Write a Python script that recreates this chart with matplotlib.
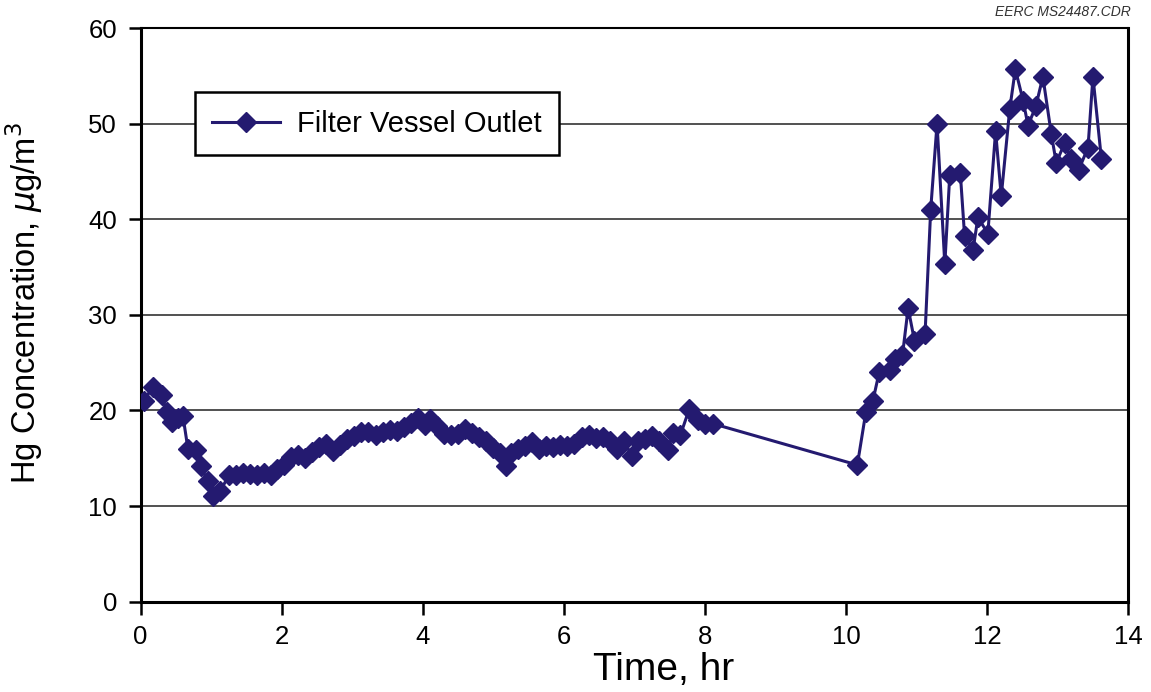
import matplotlib.pyplot as plt

plt.rcParams['font.family'] = ['Liberation Sans', 'DejaVu Sans']

# Filter vessel outlet Hg concentration
time_hr = [0.05, 0.17, 0.30, 0.37, 0.45, 0.53, 0.60, 0.67, 0.78, 0.85,
           0.95, 1.03, 1.13, 1.25, 1.35, 1.45, 1.55, 1.65, 1.75, 1.85,
           1.93, 2.03, 2.13, 2.23, 2.33, 2.43, 2.53, 2.63, 2.73, 2.83,
           2.93, 3.03, 3.13, 3.23, 3.33, 3.43, 3.53, 3.63, 3.73, 3.83,
           3.93, 4.03, 4.10, 4.20, 4.30, 4.40, 4.50, 4.60, 4.70, 4.80,
           4.90, 5.00, 5.10, 5.18, 5.25, 5.35, 5.45, 5.55, 5.65, 5.75,
           5.85, 5.95, 6.05, 6.15, 6.25, 6.35, 6.45, 6.55, 6.65, 6.75,
           6.85, 6.97, 7.05, 7.15, 7.25, 7.35, 7.47, 7.55, 7.65, 7.78,
           7.90, 8.00, 8.12,
           10.16, 10.28, 10.38, 10.47, 10.62, 10.69, 10.80, 10.88, 10.97, 11.12,
           11.20, 11.29, 11.40, 11.47, 11.62, 11.68, 11.80, 11.87, 12.01, 12.12,
           12.20, 12.32, 12.40, 12.51, 12.58, 12.69, 12.79, 12.91, 12.98, 13.10,
           13.19, 13.30, 13.43, 13.50, 13.62]
hg_conc = [21.0, 22.5, 21.6, 19.8, 18.8, 19.2, 19.4, 16.0, 15.9, 14.2,
           12.6, 11.1, 11.6, 13.2, 13.3, 13.5, 13.4, 13.2, 13.5, 13.3,
           13.9, 14.3, 15.1, 15.3, 15.0, 15.7, 16.2, 16.5, 15.8, 16.4,
           17.0, 17.3, 17.7, 17.8, 17.4, 17.7, 18.0, 17.9, 18.3, 18.7,
           19.2, 18.5, 19.1, 18.4, 17.5, 17.4, 17.5, 18.1, 17.6, 17.2,
           16.8, 16.1, 15.5, 14.2, 15.6, 16.0, 16.3, 16.7, 16.0, 16.3,
           16.2, 16.4, 16.3, 16.5, 17.2, 17.4, 17.1, 17.2, 16.8, 16.0,
           16.8, 15.2, 16.8, 17.0, 17.3, 16.8, 15.9, 17.6, 17.4, 20.2,
           19.0, 18.6, 18.6,
           14.3, 19.8, 21.0, 24.0, 24.2, 25.4, 25.8, 30.7, 27.3, 28.0,
           41.0, 50.0, 35.3, 44.6, 44.8, 38.3, 36.8, 40.2, 38.5, 49.2,
           42.4, 51.5, 55.7, 52.4, 49.8, 51.8, 54.9, 48.9, 45.9, 48.0,
           46.3, 45.2, 47.5, 54.9, 46.3]

navy = '#241a70'

fig = plt.figure(figsize=(11.51, 6.92), dpi=100)
ax = fig.add_axes([0.1222, 0.1305, 0.858, 0.829])

ax.plot(time_hr, hg_conc, color=navy, lw=2.2, marker='D', ms=10.5,
        mfc=navy, mec=navy, label='Filter Vessel Outlet', zorder=3)

ax.set_xlim(0, 14)
ax.set_ylim(0, 60)
ax.set_xticks(range(0, 15, 2))
ax.set_yticks(range(0, 61, 10))
ax.yaxis.grid(True, color='#333333', lw=1.2)
ax.set_axisbelow(True)
for s in ax.spines.values():
    s.set_linewidth(2.2)
    s.set_color('black')
ax.spines['top'].set_linewidth(1.5)
ax.tick_params(direction='out', length=9, width=1.8, labelsize=18.5, pad=8)

ax.set_xlabel('Time, hr', fontsize=28)
ax.set_ylabel(r'Hg Concentration, $\mu$g/m$^3$', fontsize=23.5)
ax.xaxis.set_label_coords(0.53, -0.088, transform=ax.transAxes)
ax.yaxis.set_label_coords(-0.097, 0.52, transform=ax.transAxes)

leg = ax.legend(loc='upper left', bbox_to_anchor=(0.055, 0.888), fontsize=21,
                fancybox=False, edgecolor='black', framealpha=1,
                handlelength=2.3, borderpad=0.6, handletextpad=0.6,
                borderaxespad=0)
leg.get_frame().set_linewidth(1.8)

fig.text(0.982, 0.972, 'EERC MS24487.CDR', ha='right', va='bottom',
         fontsize=10, style='italic', color='#333333')

fig.savefig('out.png', dpi=100)
